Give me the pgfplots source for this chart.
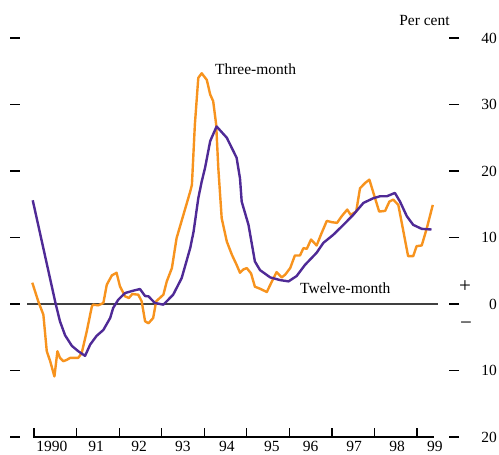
\documentclass[border=0pt]{standalone}
\usepackage{pgfplots}
\pgfplotsset{compat=1.18}
\usepackage{fontspec}
\setmainfont{Liberation Serif}
\definecolor{orng}{HTML}{F7931E}
\definecolor{purp}{HTML}{4F2A96}
\newcommand{\lbl}{\fontsize{15.5}{18}\selectfont}
\begin{document}
\begin{tikzpicture}
\path[use as bounding box] (0,0) rectangle (499pt,455pt);
% x is years since the start of 1990
\begin{axis}[at={(20pt,18pt)}, anchor=south west, scale only axis,
  width=429pt, height=399pt,
  xmin=-0.329, xmax=9.751, ymin=-20, ymax=40,
  clip=false, axis line style={draw=none},
  /pgf/number format/assume math mode=true,
  ytick={-20,-10,...,40}, yticklabels={20,10,0,10,20,30,40},
  ytick pos=both, yticklabel pos=right, tick align=outside, major tick length=10pt,
  ytick style={line width=1.2pt, black},
  yticklabel style={font=\lbl, anchor=east, inner sep=0pt, xshift=38pt},
  xtick={0.42,1.46,2.47,3.5,4.53,5.59,6.5,7.52,8.53,9.42},
  xticklabels={1990,91,92,93,94,95,96,97,98,99},
  xtick style={draw=none},
  xticklabel style={font=\lbl, inner sep=0pt, text depth=0pt, yshift=6pt}]
% zero line and bottom axis
\draw[line width=1.3pt, black!75] (axis cs:-0.164,0) -- (axis cs:9.49,0);
\draw[line width=1.2pt] (axis cs:-0.02,-20) -- (axis cs:9.40,-20);
\pgfplotsinvokeforeach{0,...,9}{\draw[line width=1.2pt] (axis cs:#1,-20) -- (axis cs:#1,-18.65);}
% three-month
\addplot[orng, line width=2.4pt, line join=round] coordinates {
(-0.04,3.2) (0.10,0.4) (0.22,-1.6) (0.30,-7.1) (0.38,-8.6) (0.48,-10.9)
(0.55,-7.1) (0.61,-8.1) (0.69,-8.6) (0.77,-8.4) (0.85,-8.1) (1.04,-8.1)
(1.12,-7.4) (1.24,-4.1) (1.36,-0.35) (1.39,-0.1) (1.51,-0.2) (1.63,0.15)
(1.71,2.9) (1.83,4.3) (1.94,4.7) (2.02,2.65) (2.14,1.15) (2.23,0.9)
(2.31,1.5) (2.45,1.4) (2.53,0.4) (2.61,-2.6) (2.69,-2.9) (2.80,-2.1)
(2.87,0.4) (3.04,1.4) (3.12,3.4) (3.24,5.4) (3.35,9.9) (3.51,13.4)
(3.67,16.9) (3.71,17.9) (3.78,27) (3.86,34) (3.94,34.7) (4.06,33.7)
(4.14,31.5) (4.21,30.5) (4.28,27) (4.33,20.5) (4.41,12.9) (4.53,9.4)
(4.65,7.4) (4.76,5.9) (4.84,4.7) (4.92,5.2) (5.00,5.4) (5.10,4.6)
(5.19,2.6) (5.31,2.3) (5.47,1.8) (5.59,3.4) (5.70,4.8) (5.82,4.0)
(5.90,4.4) (6.02,5.4) (6.13,7.3) (6.25,7.3) (6.33,8.4) (6.41,8.3)
(6.51,9.7) (6.64,8.8) (6.76,10.7) (6.88,12.5) (7.00,12.3) (7.12,12.2)
(7.23,13.2) (7.36,14.2) (7.44,13.4) (7.57,13.9) (7.66,17.4) (7.78,18.2)
(7.88,18.7) (7.99,16.4) (8.11,13.9) (8.25,14.0) (8.35,15.4) (8.44,15.7)
(8.56,14.9) (8.68,10.9) (8.79,7.2) (8.91,7.2) (8.99,8.7) (9.11,8.8)
(9.23,11.4) (9.37,14.9)};
% twelve-month
\addplot[purp, line width=2.4pt, line join=round] coordinates {
(-0.03,15.6) (0.51,0) (0.61,-2.6) (0.73,-4.7) (0.89,-6.3) (1.04,-7.1)
(1.20,-7.8) (1.32,-6.1) (1.47,-4.8) (1.63,-3.9) (1.79,-2.1) (1.86,-0.6)
(1.98,0.65) (2.14,1.65) (2.33,2.0) (2.49,2.25) (2.61,1.2) (2.69,1.15)
(2.84,0.15) (3.04,-0.1) (3.27,1.4) (3.47,3.9) (3.67,8.4) (3.75,10.9)
(3.86,15.9) (3.94,18.4) (4.02,20.5) (4.14,24.5) (4.29,26.7) (4.53,25.0)
(4.76,22.0) (4.84,18.9) (4.88,15.4) (5.04,11.9) (5.19,6.4) (5.31,5.1)
(5.55,4.0) (5.78,3.6) (5.98,3.4) (6.17,4.2) (6.37,5.9) (6.64,7.7)
(6.80,9.2) (7.03,10.4) (7.27,11.9) (7.50,13.4) (7.74,15.2) (7.97,15.9)
(8.13,16.2) (8.29,16.2) (8.48,16.7) (8.60,15.4) (8.76,13.2) (8.91,11.9)
(9.11,11.3) (9.34,11.2)};
\node[font=\lbl, anchor=west, inner sep=0pt] at (axis cs:4.25,35.3) {Three-month};
\node[font=\lbl, anchor=west, inner sep=0pt] at (axis cs:6.25,2.4) {Twelve-month};
\node[font=\lbl, anchor=east, inner sep=0pt] at (axis cs:9.77,42.7) {Per cent};
\node[font=\fontsize{21}{24}\selectfont, inner sep=0pt] at (axis cs:10.13,2.55) {+};
\node[font=\fontsize{21}{24}\selectfont, inner sep=0pt] at (axis cs:10.15,-3.3) {−};
\end{axis}
\end{tikzpicture}
\end{document}
